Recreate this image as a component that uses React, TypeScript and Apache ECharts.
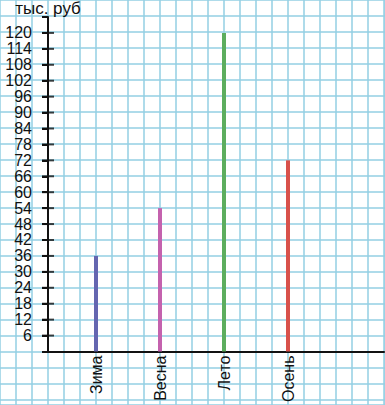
import React, { useEffect, useRef } from "react";
import * as echarts from "echarts";

// Seasonal revenue, thousand roubles
const seasons = ["Зима", "Весна", "Лето", "Осень"];
const revenue = [36, 54, 120, 72];
const barColors = ["#6466b0", "#c462ae", "#5cad5e", "#d8514b"];

// Value-axis scale
const yTicks = [6, 12, 18, 24, 30, 36, 42, 48, 54, 60, 66, 72, 78, 84, 90, 96, 102, 108, 114, 120];
const yMax = 126;
const yStep = 6;
const yUnit = "тыс. руб";

// The category axis is laid out on the same 16px cells as the paper grid:
// the seasons sit on every fourth cell, starting from the third.
const slotCount = 22;
const firstSlot = 3;
const slotStep = 4;

const W = 385;
const H = 405;
const CELL = 16;

const FONT = "'Liberation Sans', Arial, sans-serif";
const INK = "#111";
const PAPER_LINE = "#93cfe3";

export default function App() {
  const ref = useRef<HTMLDivElement>(null);

  useEffect(() => {
    document.body.style.margin = "0";
    const chart = echarts.init(ref.current!, null, { renderer: "svg" });

    const slots: string[] = Array.from({ length: slotCount }, () => "");
    const barData: any[] = Array.from({ length: slotCount }, () => "-");
    seasons.forEach((name, i) => {
      const slot = firstSlot + i * slotStep;
      slots[slot] = name;
      barData[slot] = { value: revenue[i], itemStyle: { color: barColors[i] } };
    });

    // short crossbars on the value axis (the axis sits on the first slot)
    const crossbars = yTicks.map((v) => [0, v]);

    chart.setOption({
      animation: false,
      backgroundColor: "#ffffff",
      grid: [
        { left: 48, right: 1, top: 16, bottom: 53, containLabel: false },
        // squared paper across the whole sheet
        { left: 0, top: 0, width: W, height: H, containLabel: false },
      ],
      xAxis: [
        {
          type: "category",
          gridIndex: 0,
          data: slots,
          boundaryGap: false,
          axisLine: { show: true, lineStyle: { color: INK, width: 2 } },
          axisTick: { show: false },
          splitLine: { show: false },
          axisLabel: { interval: 0, rotate: 90, margin: 4, color: INK, fontSize: 16, fontFamily: FONT },
        },
        {
          type: "value",
          gridIndex: 1,
          min: 0,
          max: W / CELL,
          interval: 1,
          axisLine: { show: false },
          axisTick: { show: false },
          axisLabel: { show: false },
          splitLine: { show: true, lineStyle: { color: PAPER_LINE, width: 1.5 } },
        },
      ],
      yAxis: [
        {
          type: "value",
          gridIndex: 0,
          min: 0,
          max: yMax,
          interval: yStep,
          name: yUnit,
          nameLocation: "end",
          nameGap: 0,
          nameTextStyle: { color: INK, fontSize: 17, fontFamily: FONT },
          axisLine: { show: true, lineStyle: { color: INK, width: 2 } },
          axisTick: { show: true, length: 6, lineStyle: { color: INK, width: 2 } },
          axisLabel: { customValues: yTicks, margin: 16, color: INK, fontSize: 16, fontFamily: FONT },
          splitLine: { show: false },
        },
        {
          type: "value",
          gridIndex: 1,
          inverse: true,
          min: 0,
          max: H / CELL,
          interval: 1,
          axisLine: { show: false },
          axisTick: { show: false },
          axisLabel: { show: false },
          splitLine: { show: true, lineStyle: { color: PAPER_LINE, width: 1.5 } },
        },
      ],
      series: [
        { type: "bar", xAxisIndex: 0, yAxisIndex: 0, data: barData, barWidth: 4 },
        {
          type: "scatter",
          xAxisIndex: 0,
          yAxisIndex: 0,
          data: crossbars,
          symbol: "rect",
          symbolSize: [12, 2],
          itemStyle: { color: INK },
          silent: true,
        },
      ],
    });

    return () => chart.dispose();
  }, []);

  return <div ref={ref} style={{ width: W, height: H }} />;
}
